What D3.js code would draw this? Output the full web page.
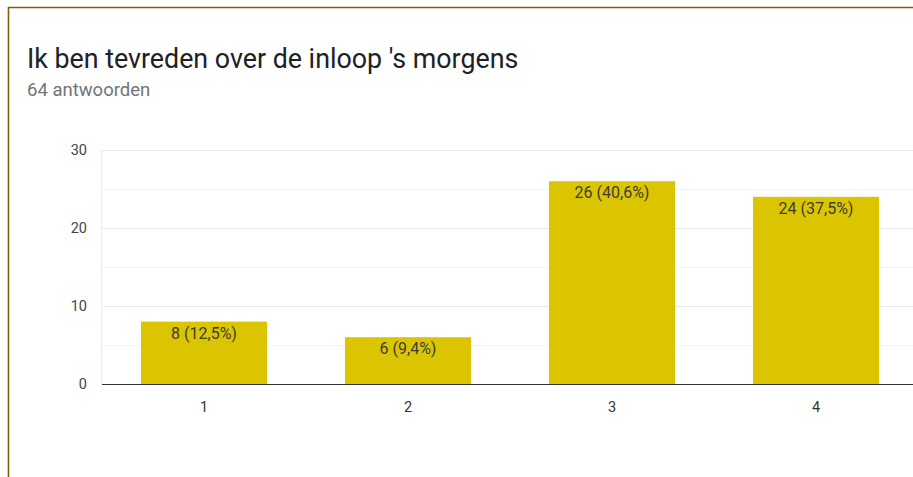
<!DOCTYPE html>
<html>
<head>
<meta charset="utf-8">
<script src="https://cdn.jsdelivr.net/npm/d3@7"></script>
<style>
  body { margin: 0; background: #fff; }
  svg { display: block; font-family: Roboto, Arial, sans-serif; }
</style>
</head>
<body>
<div id="chart-area"></div>
<script>
// data
var categories = ["1", "2", "3", "4"];
var counts = [8, 6, 26, 24];
var percents = ["12,5%", "9,4%", "40,6%", "37,5%"];
var yTicks = [0, 10, 20, 30];
var title = "Ik ben tevreden over de inloop 's morgens";
var subtitle = "64 antwoorden";

var W = 913, H = 477;
var margins = { left: 102, right: -5, top: 150, bottom: 93 };
var width = W - margins.left - margins.right;
var height = H - margins.top - margins.bottom;

var svg = d3.select("#chart-area").append("svg")
    .attr("width", W)
    .attr("height", H);

// card border
svg.append("line").attr("x1", 8).attr("x2", W).attr("y1", 7.5).attr("y2", 7.5)
    .attr("stroke", "#7f6000").attr("stroke-width", 1.6);
svg.append("line").attr("x1", 8.5).attr("x2", 8.5).attr("y1", 7).attr("y2", H)
    .attr("stroke", "#7f6000").attr("stroke-width", 1.6);

svg.append("text")
    .attr("x", 27).attr("y", 68)
    .attr("font-size", "26.8px")
    .attr("fill", "#202124")
    .text(title);

svg.append("text")
    .attr("x", 27).attr("y", 96)
    .attr("font-size", "18.5px")
    .attr("fill", "#70757a")
    .text(subtitle);

var g = svg.append("g")
    .attr("transform", "translate(" + margins.left + "," + margins.top + ")");

var x = d3.scaleBand()
    .domain(categories)
    .range([0, width])
    .paddingInner(0.382)
    .paddingOuter(0.191);

var y = d3.scaleLinear()
    .domain([0, 30])
    .range([height, 0]);

// gridlines (major and minor)
g.selectAll(".grid")
    .data(d3.range(5, 31, 5))
    .enter().append("line")
    .attr("x1", 0).attr("x2", width)
    .attr("y1", function(d) { return Math.round(y(d)) + 0.5; })
    .attr("y2", function(d) { return Math.round(y(d)) + 0.5; })
    .attr("stroke", function(d) { return d % 10 === 0 ? "#e8e8e8" : "#f3f3f3"; });

g.append("line")
    .attr("x1", -0.5).attr("x2", -0.5)
    .attr("y1", y(30)).attr("y2", height)
    .attr("stroke", "#ececec");

// y tick labels
g.selectAll(".ytick")
    .data(yTicks)
    .enter().append("text")
    .attr("x", -15)
    .attr("y", function(d) { return y(d) + 5; })
    .attr("text-anchor", "end")
    .attr("font-size", "14.5px")
    .attr("fill", "#444")
    .text(function(d) { return d; });

// bars
g.selectAll("rect")
    .data(counts)
    .enter().append("rect")
    .attr("x", function(d, i) { return x(categories[i]); })
    .attr("y", function(d) { return y(d); })
    .attr("width", x.bandwidth())
    .attr("height", function(d) { return height - y(d); })
    .attr("fill", "#dbc500");

// bar labels
g.selectAll(".blabel")
    .data(counts)
    .enter().append("text")
    .attr("x", function(d, i) { return x(categories[i]) + x.bandwidth() / 2; })
    .attr("y", function(d) { return y(d) + 17; })
    .attr("text-anchor", "middle")
    .attr("font-size", "16px")
    .attr("fill", "#3c3c3c")
    .text(function(d, i) { return d + " (" + percents[i] + ")"; });

// baseline
g.append("line")
    .attr("x1", 0).attr("x2", width)
    .attr("y1", height + 0.5).attr("y2", height + 0.5)
    .attr("stroke", "#333");

// x tick labels
g.selectAll(".xtick")
    .data(categories)
    .enter().append("text")
    .attr("x", function(d) { return x(d) + x.bandwidth() / 2; })
    .attr("y", height + 28)
    .attr("text-anchor", "middle")
    .attr("font-size", "14.5px")
    .attr("fill", "#333")
    .text(function(d) { return d; });
</script>
</body>
</html>
